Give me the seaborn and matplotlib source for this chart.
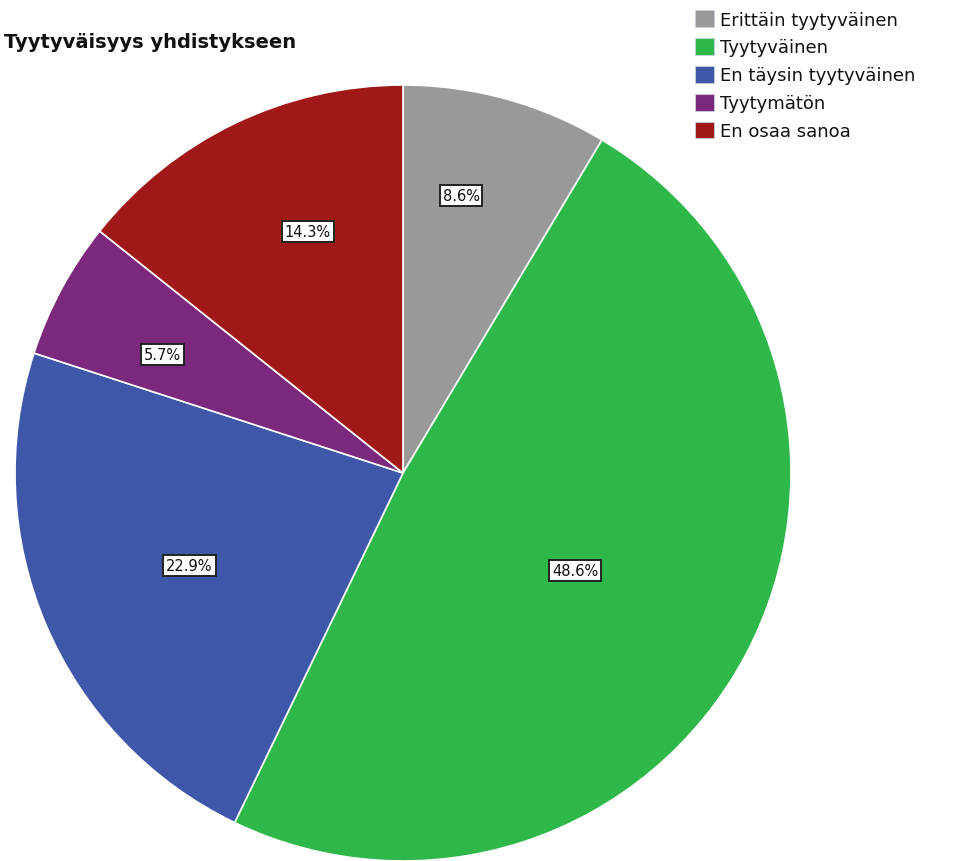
import matplotlib.pyplot as plt
import seaborn as sns
import numpy as np
from matplotlib.patches import Patch

sns.set_theme(style="white")
plt.rcParams['font.family'] = ['DejaVu Sans']

# Data
categories = ['Erittäin tyytyväinen', 'Tyytyväinen', 'En täysin tyytyväinen',
              'Tyytymätön', 'En osaa sanoa']
counts = [3, 17, 8, 2, 5]
colors = ['#999999', '#2fb84a', '#3e57a8', '#7b287d', '#a01818']
title = 'Tyytyväisyys yhdistykseen'

# label placement: distance from centre (fraction of radius) and angle nudge (deg)
label_r = [0.73, 0.51, 0.60, 0.69, 0.67]
label_dang = [3.6, -1.3, 0.3, 2.1, -4.2]

W, H = 962, 862
fig = plt.figure(figsize=(W / 100, H / 100), dpi=100)

cx, cy, R = 403, 474, 388
ax = fig.add_axes([(cx - R) / W, (H - cy - R) / H, 2 * R / W, 2 * R / H])

wedges, _ = ax.pie(counts, colors=colors, startangle=90, counterclock=False,
                   wedgeprops=dict(edgecolor='white', linewidth=1.2))
ax.set_xlim(-1, 1)
ax.set_ylim(-1, 1)
ax.set_aspect('equal')
for w in wedges:
    w.set_clip_on(False)

total = sum(counts)
for w, c, r, da in zip(wedges, counts, label_r, label_dang):
    ang = np.deg2rad((w.theta1 + w.theta2) / 2 + da)
    ax.text(r * np.cos(ang), r * np.sin(ang), f'{100 * c / total:.1f}%',
            ha='center', va='center', fontsize=10.5, color='#111111',
            bbox=dict(boxstyle='square,pad=0.2', facecolor='white',
                      edgecolor='#222222', linewidth=1.4))

fig.text(4 / W, 1 - 43 / H, title, ha='left', va='center',
         fontsize=14, fontweight='bold', color='#111111')

handles = [Patch(facecolor=col, edgecolor='#c8d0e0', linewidth=0.6) for col in colors]
fig.legend(handles, categories, loc='upper left', bbox_to_anchor=(695 / W, 1 - 11 / H),
           frameon=False, fontsize=13, handlelength=1.05, handleheight=1.05,
           handletextpad=0.35, labelspacing=0.52, borderaxespad=0, borderpad=0,
           labelcolor='#111111')

fig.savefig('out.png', dpi=100)
